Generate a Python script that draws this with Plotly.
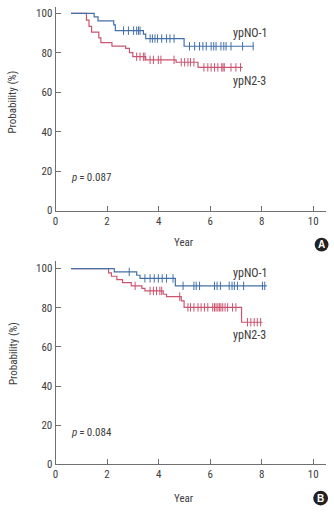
import plotly.graph_objects as go
import numpy as np

W, H = 334, 513

# ---------- data ----------
# Panel A
a_n01_times = [0.6, 1.5, 1.65, 2.26, 2.32, 3.41, 3.5, 4.99, 7.7]
a_n01_surv = [100, 98.2, 96.2, 94.1, 91.2, 89.5, 87.2, 83.3, 83.3]
a_n01_cens = [2.64, 2.83, 3.03, 3.15, 3.22, 3.28, 3.67, 3.76, 3.86, 3.96, 4.12, 4.31, 4.44, 4.6,
              5.2, 5.4, 5.59, 5.72, 5.85, 6.04, 6.14, 6.23, 6.42, 6.53, 6.62, 6.81, 7.26, 7.67]

a_n23_times = [0.6, 1.2, 1.3, 1.4, 1.68, 1.76, 2.19, 2.72, 2.87, 3.0, 3.5, 4.68, 5.53, 7.26]
a_n23_surv = [100, 96.5, 93.4, 90.5, 87.6, 85.1, 83.4, 82.2, 80.1, 78.0, 76.4, 75.2, 72.6, 72.6]
a_n23_cens = [3.15, 3.28, 3.41, 3.47, 3.67, 3.8, 3.99, 4.09, 4.6, 4.88, 5.01, 5.14, 5.24, 5.37,
              5.76, 5.91, 6.04, 6.17, 6.3, 6.45, 6.5, 6.55, 6.81, 7.0, 7.18]

# Panel B
b_n01_times = [0.6, 2.28, 3.15, 3.28, 4.65, 8.2]
b_n01_surv = [100, 98.3, 96.6, 95.0, 91.2, 91.2]
b_n01_cens = [2.86, 3.47, 3.67, 3.83, 3.99, 4.14, 4.31, 4.56, 4.95, 5.37, 5.46, 5.59, 6.17, 6.27,
              6.4, 6.74, 6.85, 6.94, 7.06, 7.3, 8.03, 8.12]

b_n23_times = [0.6, 2.06, 2.17, 2.38, 2.6, 2.94, 3.35, 3.47, 4.18, 4.31, 4.88, 4.99, 7.22, 8.03]
b_n23_surv = [100, 97.8, 96.1, 94.4, 92.8, 91.2, 89.9, 88.6, 86.9, 85.7, 83.5, 80.2, 72.6, 72.6]
b_n23_cens = [3.09, 3.67, 3.8, 3.92, 4.05, 4.12, 4.82, 5.14, 5.24, 5.37, 5.53, 5.65, 5.78, 5.91,
              6.1, 6.17, 6.23, 6.3, 6.36, 6.42, 6.49, 6.58, 6.68, 6.87, 7.0, 7.45, 7.58, 7.71, 7.83, 7.96]

x_ticks = [0, 2, 4, 6, 8, 10]
y_ticks = [0, 20, 40, 60, 80, 100]
p_values = ["0.087", "0.084"]
panel_letters = ["A", "B"]
group_labels = ["ypNO-1", "ypN2-3"]

BLUE = "#4370a8"
RED = "#cc5470"
AX = "#707070"
TXT = "#3c3c3c"
FONT = "Liberation Sans Narrow, Arial Narrow, Roboto Condensed, Liberation Sans, sans-serif"


def step_at(times, surv, t):
    idx = np.searchsorted(np.array(times), t, side="right") - 1
    return surv[max(idx, 0)]


fig = go.Figure()

panels = [
    dict(xa="x", ya="y", curves=[(a_n01_times, a_n01_surv, a_n01_cens, BLUE),
                                 (a_n23_times, a_n23_surv, a_n23_cens, RED)]),
    dict(xa="x2", ya="y2", curves=[(b_n01_times, b_n01_surv, b_n01_cens, BLUE),
                                   (b_n23_times, b_n23_surv, b_n23_cens, RED)]),
]

for p in panels:
    for times, surv, cens, col in p["curves"][::-1]:
        fig.add_trace(go.Scatter(x=times, y=surv, mode="lines", line=dict(color=col, width=1.2, shape="hv"),
                                 xaxis=p["xa"], yaxis=p["ya"], showlegend=False, hoverinfo="skip"))
        fig.add_trace(go.Scatter(x=cens, y=[step_at(times, surv, c) for c in cens], mode="markers",
                                 marker=dict(symbol="line-ns-open", size=6, color=col,
                                             line=dict(color=col, width=1)),
                                 xaxis=p["xa"], yaxis=p["ya"], showlegend=False, hoverinfo="skip"))

# pixel-based domains
def px_x(px):
    return px / W


def px_y(py):
    return 1 - py / H


xdom = [px_x(53), px_x(326)]
ydomA = [px_y(213.5), px_y(6.7)]
ydomB = [px_y(470.7), px_y(265)]

axis_common = dict(showline=True, linecolor=AX, linewidth=1, ticks="inside", ticklen=5, tickcolor=AX,
                   tickwidth=1, showgrid=False, zeroline=False, tickfont=dict(family=FONT, size=11, color=TXT))

fig.update_layout(
    width=W, height=H, margin=dict(l=0, r=0, t=0, b=0),
    paper_bgcolor="white", plot_bgcolor="white",
    xaxis=dict(domain=xdom, range=[0, 10.5], tickvals=x_ticks, anchor="y", **axis_common),
    yaxis=dict(domain=ydomA, range=[0, 103.4], tickvals=y_ticks, anchor="x", **axis_common),
    xaxis2=dict(domain=xdom, range=[0, 10.5], tickvals=x_ticks, anchor="y2", **axis_common),
    yaxis2=dict(domain=ydomB, range=[0, 103.7], tickvals=y_ticks, anchor="x2", **axis_common),
)

ann = []
# titles
for yy in [246, 505]:
    ann.append(dict(xref="paper", yref="paper", x=px_x(183), y=px_y(yy), text="Year", showarrow=False,
                    font=dict(family=FONT, size=11, color=TXT), xanchor="center", yanchor="middle"))
for yy in [103, 358]:
    ann.append(dict(xref="paper", yref="paper", x=px_x(10), y=px_y(yy), text="Probability (%)", showarrow=False,
                    textangle=-90, font=dict(family=FONT, size=11, color=TXT), xanchor="center", yanchor="middle"))
# group labels
for y1, y2 in [(33, 82), (277, 340)]:
    ann.append(dict(xref="paper", yref="paper", x=px_x(249), y=px_y(y1), text=group_labels[0], showarrow=False,
                    font=dict(family=FONT, size=12, color=TXT), xanchor="center", yanchor="middle"))
    ann.append(dict(xref="paper", yref="paper", x=px_x(249), y=px_y(y2), text=group_labels[1], showarrow=False,
                    font=dict(family=FONT, size=12, color=TXT), xanchor="center", yanchor="middle"))
# p-values
for pv, yy in zip(p_values, [180, 438]):
    ann.append(dict(xref="paper", yref="paper", x=px_x(67), y=px_y(yy), text="<i>p</i>\u2009=\u2009" + pv,
                    showarrow=False, font=dict(family=FONT, size=11, color=TXT), xanchor="left", yanchor="middle"))

shapes = []
for letter, (cx, cy, r) in zip(panel_letters, [(321.5, 248, 7), (320.5, 505, 7.5)]):
    shapes.append(dict(type="circle", xref="paper", yref="paper", x0=px_x(cx - r), x1=px_x(cx + r),
                       y0=px_y(cy + r), y1=px_y(cy - r), fillcolor="#222222", line=dict(width=0)))
    ann.append(dict(xref="paper", yref="paper", x=px_x(cx), y=px_y(cy), text="<b>" + letter + "</b>",
                    showarrow=False, font=dict(family="Liberation Sans, Arial, sans-serif", size=10, color="white"),
                    xanchor="center", yanchor="middle"))

fig.update_layout(annotations=ann, shapes=shapes)
fig.write_html("out.html")
